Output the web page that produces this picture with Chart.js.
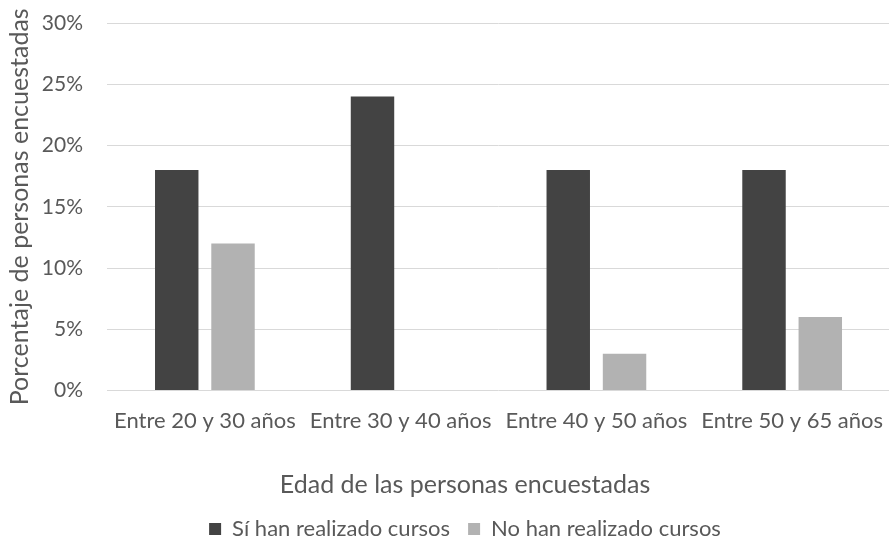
<!DOCTYPE html>
<html lang="es">
<head>
<meta charset="utf-8">
<title>Realización de cursos por edad</title>
<script src="https://cdn.jsdelivr.net/npm/chart.js@4.4.1/dist/chart.umd.min.js"></script>
<style>
  html, body { margin: 0; padding: 0; background: #ffffff; overflow: hidden; }
  #wrap { position: absolute; left: 0; top: 0; width: 900px; height: 550px; }
</style>
</head>
<body>
<div id="wrap"><canvas id="chart" width="900" height="550"></canvas></div>
<script>
// Age groups surveyed
const categories = ['Entre 20 y 30 años', 'Entre 30 y 40 años', 'Entre 40 y 50 años', 'Entre 50 y 65 años'];
// Share of respondents (%) who have taken courses
const siCursos = [18, 24, 18, 18];
// Share of respondents (%) who have not taken courses
const noCursos = [12, 0, 3, 6];
// Y axis ticks (%)
const yTicks = [0, 5, 10, 15, 20, 25, 30];

const seriesNames = ['Sí han realizado cursos', 'No han realizado cursos'];
const xTitle = 'Edad de las personas encuestadas';
const yTitle = 'Porcentaje de personas encuestadas';
const textGrey = '#595959';

Chart.defaults.font.family = 'Lato, "Open Sans", sans-serif';
Chart.defaults.color = textGrey;

new Chart(document.getElementById('chart'), {
  type: 'bar',
  data: {
    labels: categories,
    datasets: [
      { label: seriesNames[0], data: siCursos, backgroundColor: '#434343', borderWidth: 0 },
      { label: seriesNames[1], data: noCursos, backgroundColor: '#b2b2b2', borderWidth: 0 }
    ]
  },
  options: {
    responsive: false,
    animation: false,
    devicePixelRatio: 1,
    categoryPercentage: 0.575,
    barPercentage: 0.772,
    layout: { padding: { top: 23, right: 0, bottom: 0, left: 30 } },
    scales: {
      x: {
        grid: { display: false, drawTicks: false },
        border: { display: false },
        ticks: { color: textGrey, font: { size: 22, lineHeight: 1.2 }, padding: 17, maxRotation: 0, autoSkip: false }
      },
      y: {
        min: 0,
        max: 30,
        afterBuildTicks: (scale) => { scale.ticks = yTicks.map(v => ({ value: v })); },
        // plot area starts 107px from the left edge of the canvas
        afterFit: (scale) => { scale.width = 77; },
        grid: { color: '#d9d9d9', lineWidth: 1, drawTicks: true, tickLength: 24, tickColor: 'rgba(0,0,0,0)' },
        border: { display: false },
        ticks: {
          color: textGrey,
          font: { size: 21 },
          padding: 0,
          callback: (v) => v + '%'
        },
        title: {
          display: true,
          text: yTitle,
          color: textGrey,
          font: { size: 25, lineHeight: 1.2 },
          // pulls the rotated title out into the left margin
          padding: { top: -25, bottom: 0 }
        }
      }
    },
    plugins: {
      tooltip: { enabled: false },
      title: {
        display: true,
        position: 'bottom',
        weight: 500,
        text: xTitle,
        color: textGrey,
        font: { size: 25, weight: 'normal', lineHeight: 1.2 },
        padding: { top: 19, bottom: 0 }
      },
      legend: {
        position: 'bottom',
        weight: 1000,
        labels: {
          color: textGrey,
          font: { size: 22 },
          boxWidth: 12,
          boxHeight: 12,
          padding: 18
        }
      }
    }
  }
});
</script>
</body>
</html>
